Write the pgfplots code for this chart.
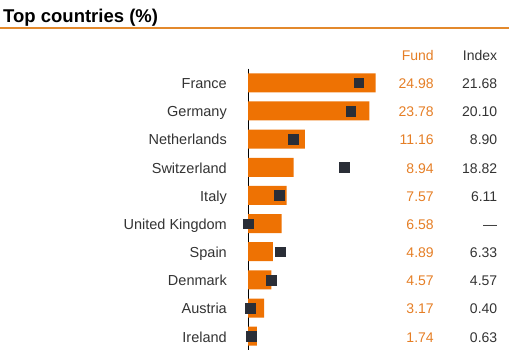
\documentclass[border=0pt]{standalone}
\usepackage{fontspec}
\setmainfont{Liberation Sans}
\usepackage{pgfplots}
\pgfplotsset{compat=1.18}
\definecolor{barorange}{HTML}{EE7203}
\definecolor{txtorange}{HTML}{E57E25}
\definecolor{titleline}{HTML}{E3892C}
\definecolor{sqdark}{HTML}{2A2E37}
\definecolor{txtdark}{HTML}{333333}
\begin{document}
\begin{tikzpicture}
\useasboundingbox (0,0) rectangle (509bp,-355bp);
\node[anchor=base west, inner sep=0pt, text=black, font=\fontsize{18.5bp}{20bp}\selectfont\bfseries] at (3bp,-22bp) {Top countries (\%)};
\draw[color=titleline, line width=2bp] (0,-27.5bp) -- (509bp,-27.5bp);
\begin{axis}[
  at={(248bp,-350.3bp)}, anchor=south west, scale only axis,
  width=127.6bp, height=281.6bp,
  xmin=0, xmax=25, ymin=-0.5, ymax=9.5, y dir=reverse,
  clip=false,
  axis x line=none, axis y line=left,
  y axis line style={-, black, line width=0.8bp},
  ytick={0,...,9},
  yticklabels={France,Germany,Netherlands,Switzerland,Italy,United Kingdom,Spain,Denmark,Austria,Ireland},
  major tick length=0pt,
  every y tick label/.append style={anchor=base east, inner sep=0pt, xshift=-21bp, yshift=-5.8bp, text=txtdark, font=\fontsize{14.5bp}{16bp}\selectfont},
]
\addplot[xbar, bar width=19bp, bar shift=0pt, fill=barorange, draw=none]
  coordinates {(24.98,0) (23.78,1) (11.16,2) (8.94,3) (7.57,4) (6.58,5) (4.89,6) (4.57,7) (3.17,8) (1.74,9)};
\addplot[only marks, mark=square*, mark size=4.8bp, color=sqdark]
  coordinates {(21.68,0) (20.10,1) (8.90,2) (18.82,3) (6.11,4) (0,5) (6.33,6) (4.57,7) (0.40,8) (0.63,9)};
\addplot[draw=none, mark=none, point meta=explicit symbolic, nodes near coords,
  nodes near coords style={anchor=base east, inner sep=0pt, yshift=-5.8bp, text=txtorange, font=\fontsize{14bp}{16bp}\selectfont}]
  coordinates {(36.43,-1)[Fund] (36.43,0)[24.98] (36.43,1)[23.78] (36.43,2)[11.16] (36.43,3)[8.94] (36.43,4)[7.57] (36.43,5)[6.58] (36.43,6)[4.89] (36.43,7)[4.57] (36.43,8)[3.17] (36.43,9)[1.74]};
\addplot[draw=none, mark=none, point meta=explicit symbolic, nodes near coords,
  nodes near coords style={anchor=base east, inner sep=0pt, yshift=-5.8bp, text=txtdark, font=\fontsize{14bp}{16bp}\selectfont}]
  coordinates {(48.87,-1)[Index] (48.87,0)[21.68] (48.87,1)[20.10] (48.87,2)[8.90] (48.87,3)[18.82] (48.87,4)[6.11] (48.87,5)[—] (48.87,6)[6.33] (48.87,7)[4.57] (48.87,8)[0.40] (48.87,9)[0.63]};
\end{axis}
\end{tikzpicture}
\end{document}
